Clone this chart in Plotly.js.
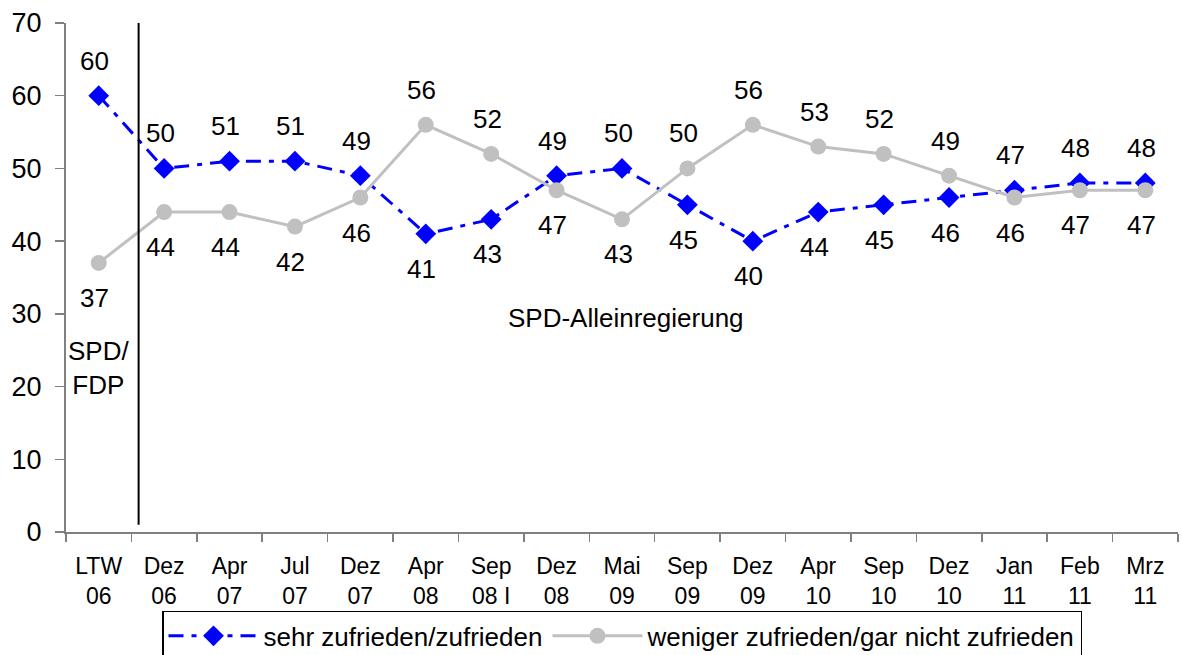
<!DOCTYPE html>
<html>
<head>
<meta charset="utf-8">
<script src="https://cdn.plot.ly/plotly-3.0.1.min.js"></script>
<style>html,body{margin:0;padding:0;background:#fff;}#chart{width:1182px;height:655px;}</style>
</head>
<body>
<div id="chart"></div>
<script>
const categories = ["LTW<br>06","Dez<br>06","Apr<br>07","Jul<br>07","Dez<br>07","Apr<br>08","Sep<br>08 I","Dez<br>08","Mai<br>09","Sep<br>09","Dez<br>09","Apr<br>10","Sep<br>10","Dez<br>10","Jan<br>11","Feb<br>11","Mrz<br>11"];
const zufrieden = [60,50,51,51,49,41,43,49,50,45,40,44,45,46,47,48,48];
const unzufrieden = [37,44,44,42,46,56,52,47,43,50,56,53,52,49,46,47,47];
const seriesNames = ["sehr zufrieden/zufrieden","weniger zufrieden/gar nicht zufrieden"];
const periodLabels = ["SPD/<br>FDP","SPD-Alleinregierung"];

const FONT = "Liberation Sans, Arial, sans-serif";

const traces = [
  {
    x: categories, y: zufrieden, name: seriesNames[0], type: "scatter", mode: "lines+markers",
    line: {color: "#0000FF", width: 3, dash: "15px,8px,5px,8px"},
    marker: {symbol: "diamond", size: 16, color: "#0000FF"}
  },
  {
    x: categories, y: unzufrieden, name: seriesNames[1], type: "scatter", mode: "lines+markers",
    line: {color: "#C0C0C0", width: 3},
    marker: {symbol: "circle", size: 16, color: "#C0C0C0"}
  }
];

const annotations = [];
categories.forEach((c, i) => {
  const a = zufrieden[i], b = unzufrieden[i];
  const aUp = a >= b;
  annotations.push({x: i, y: a, text: String(a), showarrow: false, yshift: aUp ? 35 : -35, xshift: -4,
    font: {family: FONT, size: 26, color: "#000"}});
  annotations.push({x: i, y: b, text: String(b), showarrow: false, yshift: aUp ? -35 : 35, xshift: -4,
    font: {family: FONT, size: 26, color: "#000"}});
});
annotations.push({x: 0, y: 22.6, text: periodLabels[0], showarrow: false,
  font: {family: FONT, size: 26, color: "#000"}});
annotations.push({x: 8.06, y: 29.4, text: periodLabels[1], showarrow: false,
  font: {family: FONT, size: 26, color: "#000"}});

const layout = {
  width: 1182, height: 655,
  margin: {l: 66, r: 4, t: 23, b: 123, autoexpand: false},
  paper_bgcolor: "#fff", plot_bgcolor: "#fff",
  font: {family: FONT, color: "#000"},
  showlegend: true,
  legend: {
    orientation: "h", x: 0.5, xanchor: "center", y: -0.155, yanchor: "top",
    bordercolor: "#000", borderwidth: 1.5, bgcolor: "#fff", itemwidth: 90,
    font: {family: FONT, size: 26, color: "#000"}
  },
  xaxis: {
    type: "category",
    range: [-0.5, categories.length - 0.5],
    showline: true, linecolor: "#808080", linewidth: 2,
    ticks: "outside", tickson: "boundaries", ticklen: 8, tickcolor: "#808080", tickwidth: 1.5,
    ticklabelstandoff: 12,
    showgrid: false, zeroline: false, automargin: false,
    tickfont: {family: FONT, size: 23, color: "#000"}
  },
  yaxis: {
    range: [0, 70], dtick: 10, tick0: 0,
    showline: true, linecolor: "#808080", linewidth: 2,
    ticks: "outside", ticklen: 9, tickcolor: "#808080", tickwidth: 1.5,
    ticklabelstandoff: 8,
    showgrid: false, zeroline: false, automargin: false,
    tickfont: {family: FONT, size: 27, color: "#000"}
  },
  shapes: [
    {type: "line", xref: "x", yref: "y", x0: 0.61, x1: 0.61, y0: 1, y1: 70,
     line: {color: "#000", width: 2}}
  ],
  annotations: annotations
};

Plotly.newPlot("chart", traces, layout, {displayModeBar: false, staticPlot: true});
</script>
</body>
</html>
